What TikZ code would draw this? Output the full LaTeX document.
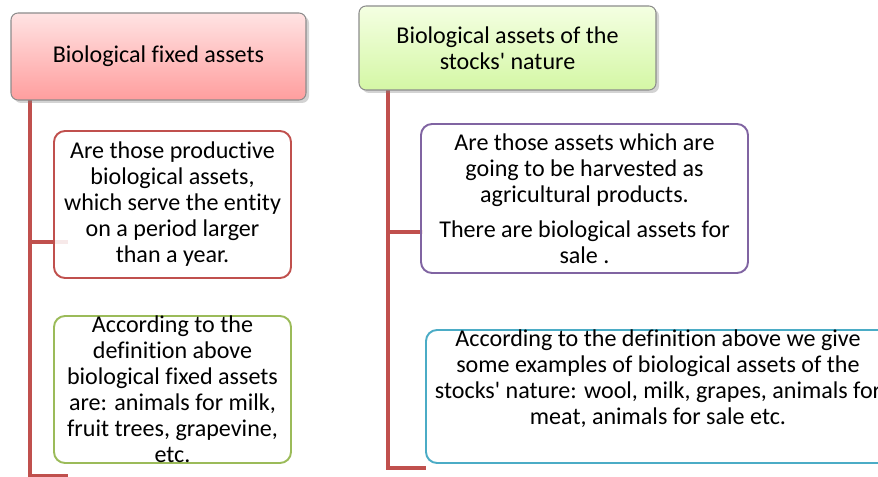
\documentclass[tikz,border=0pt]{standalone}
\usepackage{fontspec}
\setmainfont{Carlito}[Ligatures=NoCommon]
\usetikzlibrary{shadows}

\definecolor{linkred}{HTML}{C0504D}
\definecolor{edgegray}{HTML}{8C8C8C}
\definecolor{redtop}{HTML}{FFE3E3}
\definecolor{redbot}{HTML}{FF9E9E}
\definecolor{greentop}{HTML}{F4FFE2}
\definecolor{greenbot}{HTML}{D4F7A5}
\definecolor{pgreen}{HTML}{9BBB59}
\definecolor{ppurple}{HTML}{8064A2}
\definecolor{pcyan}{HTML}{4BACC6}

\begin{document}
\begin{tikzpicture}[
	header/.style={shape=rectangle, rounded corners=0.14cm, draw=edgegray, line width=0.6pt,
		drop shadow={opacity=0.35, shadow xshift=0.06cm, shadow yshift=-0.06cm},
		align=center, font=\fontsize{13.7}{14.8}\selectfont},
	panel/.style={shape=rectangle, rounded corners=0.22cm, line width=1.1pt, fill=white,
		fill opacity=0.88, text opacity=1, inner sep=0.05cm, align=center,
		font=\fontsize{13.7}{14.8}\selectfont},
	txt/.style={align=center, inner sep=0pt, font=\fontsize{13.7}{14.8}\selectfont},
	trunk/.style={draw=linkred, line width=2.8pt}
]
	\useasboundingbox (0,0) rectangle (17.56,-9.54);
	\clip (0,0) rectangle (17.56,-9.54);

	% connectors
	\coordinate (fixroot)   at (0.60,-2.00);
	\coordinate (fixend1)   at (1.36,-4.84);
	\coordinate (fixend2)   at (1.36,-9.52);
	\coordinate (stockroot) at (7.76,-1.80);
	\coordinate (stockend1) at (8.46,-4.64);
	\coordinate (stockend2) at (8.52,-9.36);

	\path [trunk] (fixroot)   |- (fixend1);
	\path [trunk] (fixroot)   |- (fixend2);
	\path [trunk] (stockroot) |- (stockend1);
	\path [trunk] (stockroot) |- (stockend2);

	% headers
	\node[header, top color=redtop, bottom color=redbot, minimum width=5.90cm, minimum height=1.74cm]
		(fixhead) at (3.17,-1.13) {Biological fixed assets};
	\node[header, top color=greentop, bottom color=greenbot, minimum width=5.94cm, minimum height=1.68cm]
		(stockhead) at (10.15,-0.96) {Biological assets of the\\stocks\textquotesingle{} nature};

	% left column
	\node[panel, draw=linkred, minimum width=4.74cm, minimum height=2.94cm]
		(fixdef) at (3.45,-4.09) {Are those productive\\biological assets,\\which serve the entity\\on a period larger\\than a year.};
	\node[panel, draw=pgreen, minimum width=4.74cm, minimum height=2.94cm]
		(fixlist) at (3.45,-7.79) {};
	\node[txt] (fixlisttext) at (3.45,-7.78)
		{According to the\\definition above\\biological fixed assets\\are: animals for milk,\\fruit trees, grapevine,\\etc.};

	% right column
	\node[panel, draw=ppurple, minimum width=6.54cm, minimum height=2.98cm]
		(stockdef) at (11.69,-3.97) {Are those assets which are\\going to be harvested as\\agricultural products.\\[5pt]There are biological assets for\\sale .};
	\node[panel, draw=pcyan, minimum width=9.28cm, minimum height=2.66cm]
		(stocklist) at (13.16,-7.93) {};
	\node[txt] (stocklisttext) at (13.16,-7.57)
		{According to the definition above we give\\some examples of biological assets of the\\stocks\textquotesingle{} nature: wool, milk, grapes, animals for\\meat, animals for sale etc.};
\end{tikzpicture}
\end{document}
